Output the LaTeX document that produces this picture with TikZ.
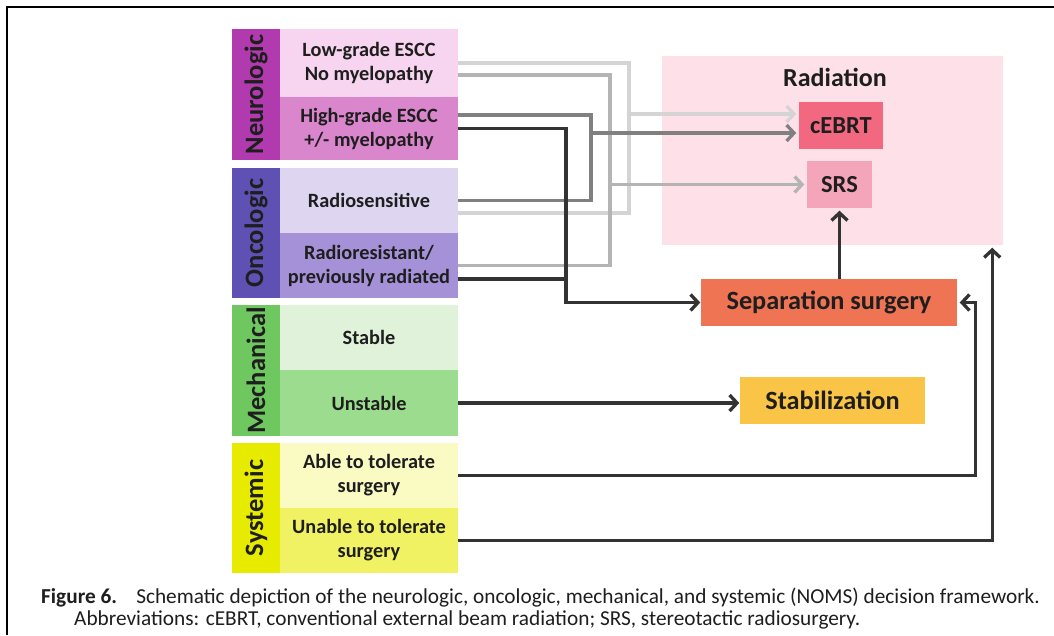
\documentclass[tikz,border=0pt]{standalone}
\usepackage{fontspec}
\setmainfont{Carlito}
\usetikzlibrary{arrows.meta,calc}
\definecolor{txt}{HTML}{1E1E1E}
\definecolor{neuroC}{HTML}{B03AAE}
\definecolor{neuroA}{HTML}{F7D5F0}
\definecolor{neuroB}{HTML}{DA86CC}
\definecolor{oncoC}{HTML}{5F50B4}
\definecolor{oncoA}{HTML}{DED6F0}
\definecolor{oncoB}{HTML}{A591D7}
\definecolor{mechC}{HTML}{6EC85F}
\definecolor{mechA}{HTML}{E0F3DA}
\definecolor{mechB}{HTML}{9CDC8E}
\definecolor{sysC}{HTML}{E6EB00}
\definecolor{sysA}{HTML}{FAFAC3}
\definecolor{sysB}{HTML}{F0F264}
\definecolor{radC}{HTML}{FDE0E8}
\definecolor{cebrtC}{HTML}{F26880}
\definecolor{srsC}{HTML}{F5A5B9}
\definecolor{sepC}{HTML}{EE7454}
\definecolor{stabC}{HTML}{FAC446}
\definecolor{lnK}{HTML}{333333}
\definecolor{lnM}{HTML}{808080}
\definecolor{lnL}{HTML}{B4B4B4}
\definecolor{lnLL}{HTML}{D4D4D4}
\begin{document}
\begin{tikzpicture}[x=1pt,y=-1pt,
  catbox/.style={rectangle, inner sep=0pt, rotate=90, minimum height=48pt, text=txt,
    font=\bfseries\fontsize{26.5}{30}\selectfont},
  itembox/.style={rectangle, inner sep=0pt, minimum width=178pt, align=center, text=txt,
    font=\bfseries\fontsize{20.3}{24}\selectfont},
  outbox/.style={rectangle, inner sep=0pt, minimum height=47pt, text=txt},
  ln/.style={line width=3.3pt},
  arr/.style={line width=3.3pt, -{Straight Barb[length=7.5pt,width=16pt]}, shorten >=2.5pt},
]
\useasboundingbox (0,0) rectangle (1054,635);
\fill[white] (0,0) rectangle (1054,635);
\draw[line width=2pt, black] (7,635) -- (7,6.5) -- (1054,6.5);

% categories
\node[catbox, fill=neuroC, minimum width=131pt] (neuro) at (256,94.5) {Neurologic};
\node[catbox, fill=oncoC, minimum width=130pt] (onco) at (256,233) {Oncologic};
\node[catbox, fill=mechC, minimum width=131pt] (mech) at (256,370.5) {Mechanical};
\node[catbox, fill=sysC, minimum width=130pt] (sys) at (256,508) {Systemic};

% items
\node[itembox, fill=neuroA, minimum height=68pt] (low) at (369,63) {Low-grade ESCC\\No myelopathy};
\node[itembox, fill=neuroB, minimum height=63pt] (high) at (369,128.5) {High-grade ESCC\\+/- myelopathy};
\node[itembox, fill=oncoA, minimum height=65pt] (sens) at (369,200.5) {Radiosensitive};
\node[itembox, fill=oncoB, minimum height=65pt] (resist) at (369,265.5) {Radioresistant/\\previously radiated};
\node[itembox, fill=mechA, minimum height=65pt] (stable) at (369,337.5) {Stable};
\node[itembox, fill=mechB, minimum height=66pt] (unstable) at (369,403) {Unstable};
\node[itembox, fill=sysA, minimum height=65pt] (able) at (369,475.5) {Able to tolerate\\surgery};
\node[itembox, fill=sysB, minimum height=65pt] (unable) at (369,540.5) {Unable to tolerate\\surgery};

% outcomes
\node[rectangle, fill=radC, minimum width=341pt, minimum height=189pt] (rad) at (832.5,150.5) {};
\node[text=txt, font=\bfseries\fontsize{26}{30}\selectfont] (radlbl) at (835,77) {Radiation};
\node[outbox, fill=cebrtC, minimum width=84pt, font=\bfseries\fontsize{24.5}{28}\selectfont] (cebrt) at (841,125.5) {cEBRT};
\node[outbox, fill=srsC, minimum width=65pt, font=\bfseries\fontsize{24.5}{28}\selectfont] (srs) at (839.5,184.5) {SRS};
\node[outbox, fill=sepC, minimum width=256pt, font=\bfseries\fontsize{26.3}{30}\selectfont] (sep) at (829,302.5) {Separation surgery};
\node[outbox, fill=stabC, minimum width=185pt, font=\bfseries\fontsize{26.3}{30}\selectfont] (stab) at (832.5,400.5) {Stabilization};

% junction points
\coordinate (jA) at (629,114);
\coordinate (jB) at (610,184.5);
\coordinate (jC) at (591,133);

% lightest: low-grade + radiosensitive -> cEBRT
\draw[ln, lnLL] (low.east) -| (629,213) -- ([yshift=-12.5pt]sens.east);
\draw[arr, lnLL] (jA) -- ([yshift=11.5pt]cebrt.west);
% light: low-grade + radioresistant -> SRS
\draw[ln, lnL] ([yshift=-12pt]low.east) -| (610,265.5) -- (resist.east);
\draw[arr, lnL] (jB) -- (srs.west);
% medium: high-grade + radiosensitive -> cEBRT
\draw[ln, lnM] ([yshift=13.5pt]high.east) -| (591,200.5) -- (sens.east);
\draw[arr, lnM] (jC) -- ([yshift=-7.5pt]cebrt.west);
% black: high-grade / radioresistant -> separation surgery
\draw[ln, lnK] ([yshift=-13.5pt]resist.east) -- (566,279);
\draw[arr, lnK, shorten >=0.5pt] (high.east) -| (566,302.5) -- (sep.west);
% separation surgery -> SRS
\draw[arr, lnK] (srs.south |- sep.north) -- (srs.south);
% unstable -> stabilization
\draw[arr, lnK, shorten >=0.5pt] (unstable.east) -- (unstable.east -| stab.west);
% able -> separation surgery
\draw[arr, lnK] (able.east) -| ([xshift=18pt]sep.east) -- (sep.east);
% unable -> radiation
\draw[arr, lnK] (unable.east) -| ([xshift=-11pt]rad.south east);

% caption
\node[anchor=base west, inner sep=0pt, text=txt, font=\fontsize{21.3}{24}\selectfont] (cap1) at (41,603)
  {\textbf{Figure 6.}\hspace{0.9em}Schematic depiction of the neurologic, oncologic, mechanical, and systemic (NOMS) decision framework.};
\node[anchor=base west, inner sep=0pt, text=txt, font=\fontsize{21.3}{24}\selectfont] (cap2) at (74,625)
  {Abbreviations: cEBRT, conventional external beam radiation; SRS, stereotactic radiosurgery.};
\end{tikzpicture}
\end{document}
